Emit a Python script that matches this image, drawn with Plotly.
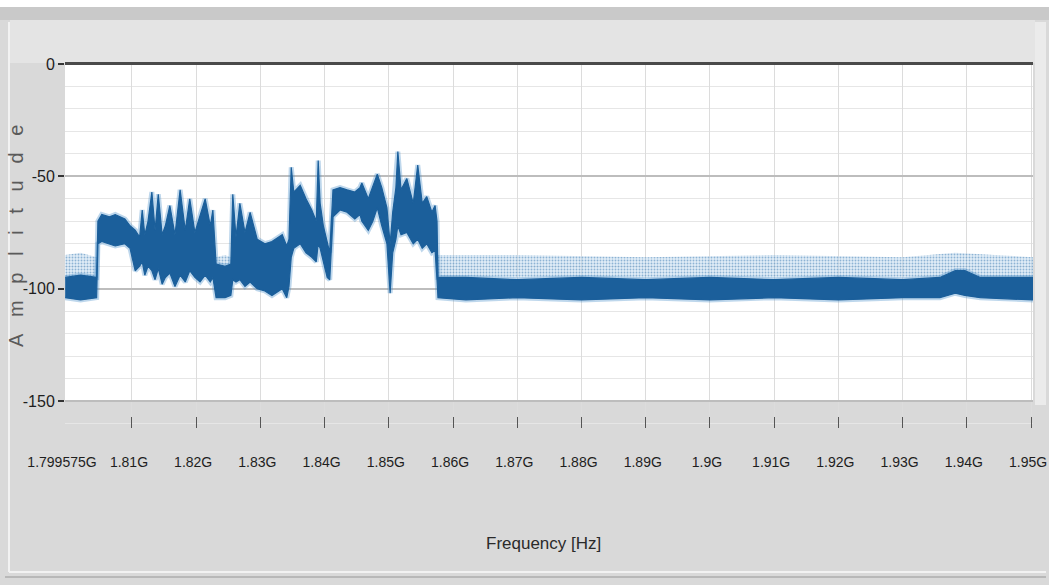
import plotly.graph_objects as go

# ---------------- data ----------------
freq_mhz = [1799.6, 1802.0, 1804.5, 1804.7, 1805.3, 1806.5, 1807.4, 1808.9, 1809.7,
            1810.5, 1811.2, 1811.6, 1812.0, 1812.5, 1813.1, 1813.6, 1814.1, 1814.7,
            1815.2, 1815.9, 1816.7, 1817.5, 1818.3, 1819.0, 1819.8, 1820.6, 1821.4,
            1822.2, 1822.6, 1823.1, 1824.5, 1825.4, 1825.7, 1826.2, 1826.8, 1827.6,
            1828.4, 1829.5, 1830.7, 1831.8, 1833.4, 1834.1, 1834.45, 1834.8, 1835.2,
            1836.2, 1837.1, 1838.0, 1838.7, 1839.0, 1839.3, 1839.8, 1840.4, 1840.8,
            1841.3, 1842.4, 1843.5, 1844.7, 1845.5, 1845.8, 1846.8, 1847.5, 1848.2,
            1848.9, 1849.7, 1850.2, 1850.6, 1851.1, 1851.4, 1851.9, 1852.8, 1853.8,
            1854.5, 1855.2, 1855.9, 1856.7, 1857.2, 1857.5, 1857.65, 1862.0, 1870.0,
            1880.0, 1890.0, 1900.0, 1910.0, 1920.0, 1930.0, 1935.8, 1938.2, 1939.7,
            1942.1, 1950.3]
upper_db = [-95, -94, -95, -70, -67, -68, -67, -69, -72,
            -74, -77, -65, -76, -70, -57, -74, -58, -76,
            -72, -63, -76, -56, -74, -60, -75, -68, -60,
            -72, -65, -89, -90, -89, -58, -77, -62, -75,
            -66, -78, -80, -79, -76, -81, -78, -46, -57,
            -54, -60, -65, -70, -43, -62, -72, -80, -84,
            -56, -55, -56, -57, -55, -53, -60, -54, -49,
            -55, -64, -80, -66, -55, -39, -56, -51, -62,
            -45, -62, -59, -66, -63, -70, -95, -95, -96,
            -95, -96, -95, -96, -95, -96, -95, -92, -92,
            -95, -95]
lower_db = [-104, -105, -104, -80, -79, -80, -81, -80, -82,
            -92, -90, -88, -94, -90, -92, -96, -91, -98,
            -95, -93, -99, -94, -97, -92, -95, -97, -94,
            -97, -95, -104, -104, -103, -96, -97, -96, -99,
            -97, -100, -101, -103, -100, -104, -99, -86, -82,
            -80, -84, -86, -88, -80, -82, -88, -95, -96,
            -68, -65, -66, -69, -67, -70, -74, -70, -64,
            -72, -80, -102, -84, -78, -72, -76, -75, -80,
            -78, -82, -80, -84, -83, -96, -104, -105, -104,
            -105, -104, -105, -104, -105, -104, -104, -102, -103,
            -104, -105]

# light scattered noise above the floor
speckle1_freq = [1799.6, 1802.0, 1804.5]
speckle1_top = [-85, -84, -86]
speckle2_freq = [1823.1, 1824.5, 1825.4]
speckle2_top = [-86, -85, -86]
speckle3_freq = [1857.65, 1870.0, 1890.0, 1910.0, 1930.0, 1938.2, 1950.3]
speckle3_top = [-85, -85, -86, -85, -86, -84, -86]
speckle_floor = -95

tick_freq_ghz = [1.799575, 1.81, 1.82, 1.83, 1.84, 1.85, 1.86, 1.87, 1.88, 1.89,
                 1.90, 1.91, 1.92, 1.93, 1.94, 1.95]
tick_text = ["1.799575G", "1.81G", "1.82G", "1.83G", "1.84G", "1.85G", "1.86G",
             "1.87G", "1.88G", "1.89G", "1.9G", "1.91G", "1.92G", "1.93G",
             "1.94G", "1.95G"]
y_ticks = [0, -50, -100, -150]
y_tick_text = ["0", "-50", "-100", "-150"]

# ---------------- figure ----------------
W, H = 1049, 585
ML, MR, MT, MB = 65, 16, 64, 157
PW, PH = W - ML - MR, H - MT - MB

def pxx(px):
    return (px - ML) / PW

def pxy(py):
    return (H - MB - py) / PH

BLUE = "#1b5f9b"
HALO = "rgba(70,140,200,0.35)"
FONT = "Liberation Sans, Arial, sans-serif"

fig = go.Figure()

# speckle noise (patterned fill)
for fr, tp in [(speckle1_freq, speckle1_top), (speckle2_freq, speckle2_top),
               (speckle3_freq, speckle3_top)]:
    xs = [f * 1e6 for f in fr] + [f * 1e6 for f in fr[::-1]]
    ys = list(tp) + [speckle_floor] * len(fr)
    fig.add_trace(go.Scatter(
        x=xs, y=ys, mode="lines", fill="toself", line=dict(width=0),
        fillcolor="rgba(170,205,232,0.45)",
        fillpattern=dict(shape=".", fgcolor="#3a7ab2", bgcolor="rgba(200,222,240,0.55)",
                         size=3, solidity=0.3),
        hoverinfo="skip", showlegend=False))

freq_hz = [f * 1e6 for f in freq_mhz]
# soft halo around the trace envelope
fig.add_trace(go.Scatter(x=freq_hz, y=upper_db, mode="lines",
                         line=dict(color=HALO, width=5), showlegend=False,
                         hoverinfo="skip"))
fig.add_trace(go.Scatter(x=freq_hz, y=lower_db, mode="lines",
                         line=dict(color=HALO, width=5), showlegend=False,
                         hoverinfo="skip"))
# the band itself
fig.add_trace(go.Scatter(x=freq_hz, y=lower_db, mode="lines",
                         line=dict(color=BLUE, width=1.2), showlegend=False,
                         hoverinfo="skip"))
fig.add_trace(go.Scatter(x=freq_hz, y=upper_db, mode="lines", fill="tonexty",
                         fillcolor=BLUE, line=dict(color=BLUE, width=1.2),
                         showlegend=False, name="Amplitude"))

x0 = tick_freq_ghz[0] * 1e9
x1 = x0 + (1950.3e6 - 1799.575e6)

fig.update_layout(
    width=W, height=H,
    margin=dict(l=ML, r=MR, t=MT, b=MB, autoexpand=False),
    paper_bgcolor="#d9d9d9",
    plot_bgcolor="#ffffff",
    showlegend=False,
    xaxis=dict(
        range=[x0, x1], automargin=False,
        tickvals=[t * 1e9 for t in tick_freq_ghz],
        ticktext=tick_text,
        tickangle=0,
        ticks="inside", ticklen=11, tickwidth=1, tickcolor="#555555",
        ticklabelstandoff=24, ticklabeloverflow="allow", ticklabelshift=-3,
        tickfont=dict(family=FONT, size=14, color="#1e1e1e"),
        showgrid=True, gridcolor="#dcdcdc", gridwidth=1,
        zeroline=False, showline=False,
    ),
    yaxis=dict(
        range=[-162, 0], automargin=False,
        tickvals=y_ticks, ticktext=y_tick_text,
        ticks="outside", ticklen=6, tickwidth=1.5, tickcolor="#333333",
        tickfont=dict(family=FONT, size=16, color="#1e1e1e"),
        showgrid=True, gridcolor="#bdbdbd", gridwidth=1.5,
        minor=dict(dtick=10, showgrid=True, gridcolor="#e6e6e6", gridwidth=1),
        zeroline=False, showline=False,
    ),
)

shapes = []
# gray strip under the plot area (between -150 and the tick row)
shapes.append(dict(type="rect", xref="paper", yref="y", x0=0, x1=1, y0=-163, y1=-150,
                   fillcolor="#d9d9d9", line=dict(width=0), layer="between"))
# light band above the plot area
shapes.append(dict(type="rect", xref="paper", yref="paper", x0=pxx(10), x1=pxx(1035),
                   y0=pxy(63), y1=pxy(20), fillcolor="#e4e4e4", line=dict(width=0),
                   layer="below"))
# top window strip
shapes.append(dict(type="rect", xref="paper", yref="paper", x0=pxx(0), x1=pxx(W),
                   y0=pxy(20), y1=pxy(7), fillcolor="#c9c9c9", line=dict(width=0),
                   layer="below"))
shapes.append(dict(type="rect", xref="paper", yref="paper", x0=pxx(0), x1=pxx(W),
                   y0=pxy(7), y1=pxy(0), fillcolor="#ffffff", line=dict(width=0),
                   layer="below"))
# right scroll column
shapes.append(dict(type="rect", xref="paper", yref="paper", x0=pxx(1035), x1=pxx(1046),
                   y0=pxy(405), y1=pxy(22), fillcolor="#ebebeb", line=dict(width=0),
                   layer="below"))
# frame highlight lines
shapes.append(dict(type="line", xref="paper", yref="paper", x0=pxx(9), x1=pxx(9),
                   y0=pxy(572), y1=pxy(22), line=dict(color="#f2f2f2", width=2)))
shapes.append(dict(type="line", xref="paper", yref="paper", x0=pxx(9), x1=pxx(1046),
                   y0=pxy(572), y1=pxy(572), line=dict(color="#f2f2f2", width=2)))
shapes.append(dict(type="line", xref="paper", yref="paper", x0=pxx(5), x1=pxx(1046),
                   y0=pxy(577), y1=pxy(577), line=dict(color="#b8b8b8", width=2)))
# heavy top line at 0
shapes.append(dict(type="line", xref="paper", yref="paper", x0=0, x1=1,
                   y0=pxy(63.5), y1=pxy(63.5), line=dict(color="#4a4a4a", width=3)))
fig.update_layout(shapes=shapes)

sp = "\u2002\u2005\u200a"
fig.add_annotation(text=sp.join("Amplitude"), textangle=-90, xref="paper", yref="paper",
                   x=pxx(16), y=pxy(236), showarrow=False, xanchor="center",
                   yanchor="middle",
                   font=dict(family=FONT, size=20, color="#5a5a5a"))
fig.add_annotation(text="Frequency [Hz]", xref="paper", yref="paper",
                   x=pxx(543), y=pxy(543), showarrow=False, xanchor="center",
                   yanchor="middle",
                   font=dict(family=FONT, size=17, color="#2a2a2a"))

fig.write_html("out.html")
